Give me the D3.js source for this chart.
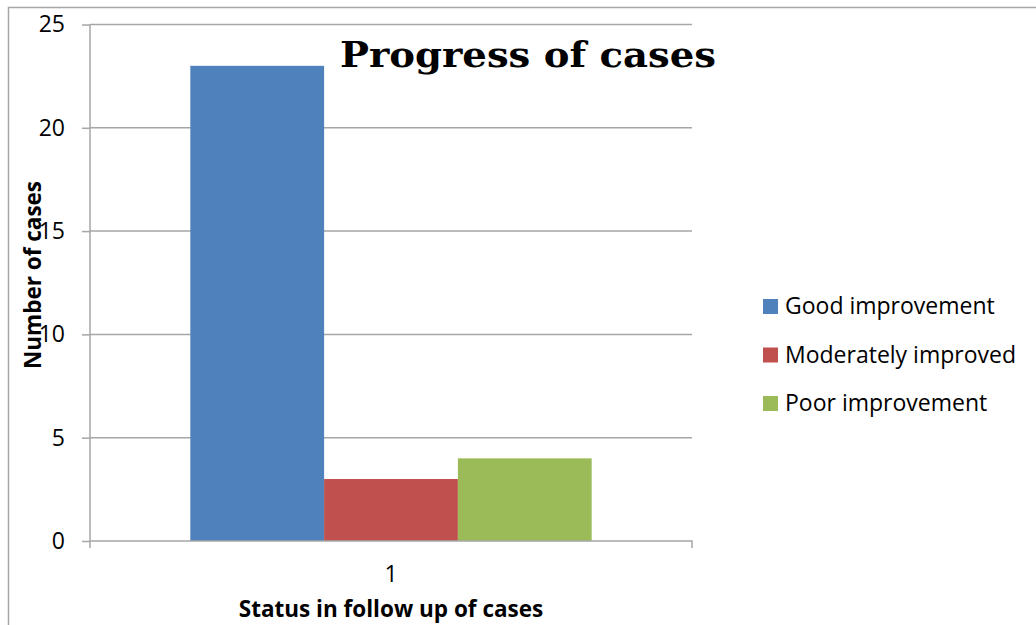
<!DOCTYPE html>
<html>
<head>
<meta charset="utf-8">
<script src="https://cdn.jsdelivr.net/npm/d3@7"></script>
<style>
  html, body { margin: 0; padding: 0; background: #fff; }
  svg { display: block; }
</style>
</head>
<body>
<svg id="chart" width="1036" height="625"></svg>
<script>
// Data
const categories = ["1"];
const seriesNames = ["Good improvement", "Moderately improved", "Poor improvement"];
const seriesValues = [23, 3, 4];
const seriesColors = ["#4f81bd", "#c0504d", "#9bbb59"];
const yTicks = [0, 5, 10, 15, 20, 25];

const svg = d3.select("#chart");
const W = 1036, H = 625;
const bodyFont = "'Open Sans', 'Noto Sans', sans-serif";

// Outer chart frame
svg.append("rect")
  .attr("x", 8.5).attr("y", 7.5)
  .attr("width", W + 10).attr("height", H + 10)
  .attr("fill", "#fff").attr("stroke", "#a6a6a6").attr("stroke-width", 1.5);

const plot = { left: 90, right: 692, top: 24.5, bottom: 541 };

const x = d3.scaleBand().domain(categories).range([plot.left, plot.right]).padding(0);
const y = d3.scaleLinear().domain([0, 25]).range([plot.bottom, plot.top]);

// Horizontal gridlines
svg.append("g").selectAll("line").data(yTicks.filter(d => d > 0)).join("line")
  .attr("x1", plot.left).attr("x2", plot.right)
  .attr("y1", d => y(d)).attr("y2", d => y(d))
  .attr("stroke", "#a6a6a6").attr("stroke-width", 1.5);

// Clustered bars: gap width 150% of a bar on each cluster
const groupWidth = x.bandwidth() / (1 + 1.5 / seriesValues.length);
const inner = d3.scaleBand().domain(seriesNames)
  .range([0, groupWidth]).padding(0);
const offset = (x.bandwidth() - groupWidth) / 2;

svg.append("g").selectAll("rect").data(seriesValues).join("rect")
  .attr("x", (d, i) => x(categories[0]) + offset + inner(seriesNames[i]))
  .attr("width", inner.bandwidth())
  .attr("y", d => y(d))
  .attr("height", d => y(0) - y(d))
  .attr("fill", (d, i) => seriesColors[i]);

// Y axis
const yAxis = svg.append("g")
  .attr("transform", `translate(${plot.left},0)`)
  .call(d3.axisLeft(y).tickValues(yTicks).tickSize(8).tickPadding(17));
yAxis.select(".domain").attr("stroke", "#a6a6a6").attr("stroke-width", 1.5)
  .attr("d", `M0,${plot.top}V${plot.bottom}`);
yAxis.selectAll(".tick line").attr("stroke", "#a6a6a6").attr("stroke-width", 1.5);
yAxis.selectAll(".tick text")
  .attr("font-family", bodyFont).attr("font-size", 23).attr("fill", "#000");

// X axis
const xAxis = svg.append("g")
  .attr("transform", `translate(0,${plot.bottom})`)
  .call(d3.axisBottom(x).tickSize(0).tickPadding(25));
xAxis.select(".domain").attr("stroke", "#a6a6a6").attr("stroke-width", 1.5)
  .attr("d", `M${plot.left},7V0H${plot.right}V7`);
xAxis.selectAll(".tick text")
  .attr("font-family", bodyFont).attr("font-size", 23).attr("fill", "#000");

// Axis titles
svg.append("text")
  .attr("x", (plot.left + plot.right) / 2).attr("y", 617)
  .attr("text-anchor", "middle")
  .attr("font-family", bodyFont).attr("font-weight", "bold").attr("font-size", 22.5)
  .text("Status in follow up of cases");

svg.append("text")
  .attr("transform", `translate(41,275) rotate(-90)`)
  .attr("text-anchor", "middle")
  .attr("font-family", bodyFont).attr("font-weight", "bold").attr("font-size", 22.5)
  .text("Number of cases");

// Chart title
svg.append("text")
  .attr("x", 340).attr("y", 67)
  .attr("font-family", "'DejaVu Serif', serif").attr("font-weight", "bold").attr("font-size", 36)
  .attr("textLength", 376).attr("lengthAdjust", "spacingAndGlyphs")
  .text("Progress of cases");

// Legend
const legend = svg.append("g").selectAll("g").data(seriesNames).join("g")
  .attr("transform", (d, i) => `translate(763,${299 + i * 48.5})`);
legend.append("rect").attr("width", 15).attr("height", 15)
  .attr("fill", (d, i) => seriesColors[i]);
legend.append("text").attr("x", 22).attr("y", 15)
  .attr("font-family", bodyFont).attr("font-size", 23).attr("fill", "#000")
  .text(d => d);
</script>
</body>
</html>
